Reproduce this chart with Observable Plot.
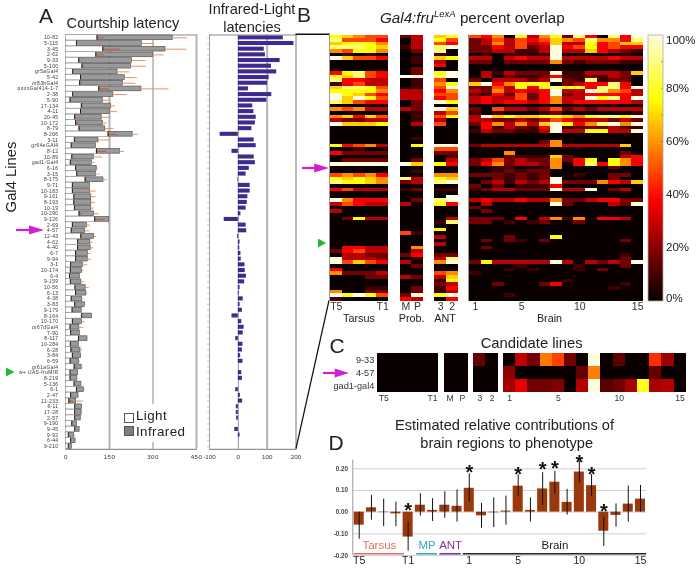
<!DOCTYPE html>
<html><head><meta charset="utf-8">
<style>
html,body{margin:0;padding:0;background:#fff}
#page{position:relative;width:699px;height:569px;overflow:hidden;font-family:"Liberation Sans",Arial,sans-serif;color:#222;filter:blur(0.35px)}
#page svg{position:absolute;left:0;top:0;font-family:"Liberation Sans",Arial,sans-serif}
#page svg text{font-family:"Liberation Sans",Arial,sans-serif}
.rowlabels text{letter-spacing:.42px}
.t{position:absolute;white-space:nowrap;line-height:1}
.box{position:absolute;border:1px solid #555;box-sizing:border-box}
</style>
<script src="https://cdn.jsdelivr.net/npm/d3@7"></script>
<script src="https://cdn.jsdelivr.net/npm/@observablehq/plot@0.6"></script>
</head><body><div id="page"></div>
<script>
const lines = ["10-82","5-115","3-45","2-62","9-33","5-100","gr5aGal4","5-42","or83bGal4","poxnGal414-1-7","2-38","5-90","17-134","4-11","20-45","10-172","8-79","8-206","3-11","gr64eGAl4","8-12","10-89","gad1-Gal4","6-16","3-15","8-175","9-71","10-183","9-161","8-193","10-19","10-290","9-126","2-69","4-57","12-43","4-62","4-40","6-7","9-94","3-1","10-174","6-4","9-159","10-56","6-13","4-38","3-83","9-179","8-164","10-170","or67dGal4","7-90","8-117","10-284","6-28","3-84","6-59","gr61aGal4","w+ UAS-fruMIR","8-219","5-136","6-1","2-47","11-233","6-11","17-28","2-57","9-190","9-45","9-92","6-44","9-210"];
const lightLatency = [107,36,127,103,44,55,23,50,47,113,23,14,53,50,30,33,45,145,29,18,105,20,15,33,37,66,22,22,27,27,29,45,99,22,18,51,40,40,33,33,16,15,12,15,31,33,18,30,21,54,22,14,16,43,15,17,22,14,28,14,14,28,36,16,10,30,30,30,20,30,8,16,8];
const lightError = [24,0,59,28,5,10,3,5,8,36,0,3,6,5,5,15,5,33,3,0,36,3,3,0,0,8,0,0,3,3,3,12,35,0,0,6,5,5,3,3,0,0,0,0,3,3,0,0,0,3,0,3,0,3,0,10,0,0,10,0,0,3,3,3,16,0,0,0,0,0,0,0,0];
const infraredLatency = [368,262,343,300,228,224,178,203,196,260,163,127,155,151,123,127,135,230,112,103,186,96,89,106,103,129,83,83,87,87,87,97,149,72,66,97,84,85,76,75,58,55,48,53,68,70,55,65,54,89,55,46,48,74,45,50,52,45,54,42,39,53,62,43,35,55,54,51,38,47,28,33,20];
const infraredErrorEnd = [419,306,417,338,276,277,220,246,241,355,211,151,170,177,151,142,165,249,151,103,202,126,100,110,117,142,83,104,104,102,97,115,149,84,82,105,93,96,84,88,75,62,50,65,80,76,62,68,54,89,66,61,50,75,47,58,53,50,59,42,40,55,66,46,60,55,57,55,40,47,33,33,20];
const differences = [156,193,90,94,145,115,133,107,101,35,116,99,50,54,62,59,47,-63,55,62,-22,55,59,38,27,-2,41,41,33,31,27,9,-49,27,29,-3,6,5,9,10,23,24,28,22,6,3,17,6,14,-22,12,20,17,-9,16,14,8,16,0,12,14,0,-9,7,15,-7,-7,-6,0,-12,6,0,0];

// heat-map rows: one character per cell, an overlap step looked up in overlapSteps
const overlapSteps = {"0":0,"1":8,"2":16,"3":27,"4":37,"5":48,"6":58,"7":68,"8":76,"9":88,"a":100};
const tarsusRows = ["87655","95554","78886","99987","65886","01010","a7554","00000","00000","00000","48954","87954","94433","14533","79985","88886","a8754","a7a85","97544","00000","65633","00000","67475","32233","a7778","00000","00000","00000","00000","00000","84563","00100","42222","00000","02222","aaaaa","00000","00000","56564","87876","98876","00000","45333","00000","00000","a6444","35433","00000","30000","00000","02833","00000","00000","00000","00000","00000","00000","00000","04433","24533","03322","a3332","a5754","00000","40000","62223","00022","00000","00000","00011","60022","a8a85","10000"];
const mpRows = ["23","03","03","13","02","00","01","01","00","02","02","aa","01","01","01","33","33","33","02","02","32","01","01","01","03","00","00","00","01","00","08","00","00","00","02","a7","00","01","00","93","23","00","12","00","00","02","30","00","00","00","00","00","00","00","51","00","00","00","06","03","24","01","30","02","00","00","32","00","00","02","02","2a","43"];
const antRows = ["78","85","54","9a","90","10","78","30","40","00","8a","9a","50","68","5a","46","55","45","a8","00","a7","35","58","30","50","00","00","00","00","00","aa","55","22","01","03","84","00","00","66","87","9a","00","11","00","0a","9a","84","00","00","00","03","19","00","80","00","30","00","30","00","00","22","39","6a","00","00","56","37","18","23","14","13","8a","04"];
const brainRows = ["54608368294094a","235354576596649","236353473384577","2243523a4584544","2233113a3374321","0101111a0000010","3303433a3333433","220222262122211","000000000000000","000000000000000","0313222a1133327","030211241121320","2033323a2191220","7a4688802344940","22538489884994a","3263434a33a9653","2142524a2344443","3433524633a894a","343443463444443","000000000000000","205332352323333","101000120000001","3a787788768998a","332232354333232","2463637a8469a6a","0413214a1122311","1322113a338833a","000000000000000","000000000000000","000000260000000","233333363333370","000000000000000","000600000000020","000211172000034","235232262480864","246233260494864","001100160000200","001212200000000","222121200100220","0021212a0000200","0231323a2226437","202011140000000","1233222a33a0230","000000000000000","000000000000000","343343362234422","0300000a200032a","200000000000000","020000000000000","000000000000000","222040361604430","220101200200000","000000000000000","000000000000000","000000000000000","000200080000000","020210200000020","000000000000000","020000000000000","000000000000000","000000000000010","000000000000020","2833333a303232a","000010000100020","000101000102000","100000000000000","000000000000000","000000001000000","002000240000010","000000000000100","000000000000000","000100000000000","000000000000000"];
const tarsusCols = ["T5","t4","t3","t2","T1"], mpCols = ["M","P"], antCols = ["3","2"];
const brainCols = ["1","b2","b3","b4","5","b6","b7","b8","b9","10","b11","b12","b13","b14","15"];

// panel C
const candidateLines = ["9-33","4-57","gad1-gal4"];
const candidateTarsus = [[0,0,0,0,0],[0,0,0,0,0],[0,0,0,0,0]];
const candidateMP = [[0,0],[0,0],[0,0]];
const candidateAnt = [[14,0],[0,0],[0,0]];
const candidateBrain = [[0,28,16,55,47,16,0,100,0,13,0,0,44,22,0],[20,0,0,0,0,0,14,56,0,0,0,0,14,0,0],[24,34,16,16,18,0,26,100,12,16,24,78,24,26,0]];

// panel D
const contribution = [-0.06,0.02,-0.002,-0.008,-0.115,0.032,0.008,0.032,0.027,0.11,-0.017,-0.003,0.005,0.12,0.008,0.107,0.138,0.045,0.185,0.122,-0.088,-0.015,0.037,0.06];
const contributionHi = [0,0.077,0.06,0.046,-0.046,0.085,0.062,0.094,0.103,0.177,0.04,0.066,0.074,0.172,0.066,0.182,0.189,0.105,0.234,0.174,-0.023,0.038,0.12,0.123];
const contributionLo = [-0.125,-0.037,-0.067,-0.067,-0.18,-0.018,-0.043,-0.028,-0.046,0.046,-0.074,-0.071,-0.06,0.072,-0.046,0.031,0.085,-0.014,0.134,0.072,-0.158,-0.069,-0.046,0];
const starBars = [4,9,13,15,16,18,19,20];
const starLevels = [0.026,0.203,0.192,0.215,0.22,0.249,0.192,0.022];
const contributionTicks = ["T5","T1","1","5","10","15"];
const contributionTickBars = [0,4,9,13,18,23];
const groups = [
  {name:"Tarsus",start:0.1,end:4.2,color:"#e0705c"},
  {name:"MP",start:5.2,end:6.9,color:"#3aa3c4"},
  {name:"ANT",start:7.1,end:8.85,color:"#7c3392"},
  {name:"Brain",start:9,end:24,color:"#222222"}
];

const W = 699, H = 569;
const page = document.getElementById("page");
const base = {width:W,height:H,style:"background:transparent;overflow:visible"};
const put = p => page.appendChild(p);
const decode = c => overlapSteps[c];
const hot = {type:"linear",domain:[0,37.5,75,100],range:["#0a0000","#ff0000","#ffff00","#fffde0"]};

function text(s,x,y,size,o={}){
  const d=document.createElement("div");d.className="t";d.innerHTML=s;
  d.style.left=x+"px";d.style.top=y+"px";d.style.fontSize=size+"px";
  const ax=o.anchor==="start"?"0":o.anchor==="end"?"-100%":"-50%";
  d.style.transform=`translate(${ax},-50%)`+(o.rotate?` rotate(${o.rotate}deg)`:"");
  if(o.color)d.style.color=o.color;
  if(o.spacing)d.style.letterSpacing=o.spacing+"px";
  page.appendChild(d);return d;
}

// ---------- Panel A : latencies
const rows = lines.map((name,i)=>({i,name,light:lightLatency[i],lightErr:lightLatency[i]+lightError[i],ir:infraredLatency[i],irEnd:infraredErrorEnd[i],diff:differences[i]}));
const rowY = {type:"band",domain:d3.range(lines.length),padding:0,round:false,axis:null};
put(Plot.plot({...base,className:"rowlabels",marginLeft:65.5,marginRight:W-196,marginTop:34.5,marginBottom:H-448.8,
  x:{domain:[0,450],axis:null},y:rowY,
  marks:[
    Plot.frame({anchor:"top",stroke:"#888"}),
    Plot.ruleX([0],{stroke:"#888",strokeWidth:.8}),
    Plot.ruleX([150],{stroke:"#b3b3b3",strokeWidth:2}),
    Plot.ruleX([300],{stroke:"#888",strokeWidth:1}),
    Plot.ruleX([450],{stroke:"#b3b3b3",strokeWidth:2}),
    Plot.barX(rows,{x1:0,x2:"ir",y:"i",fill:"#9a9a9a",stroke:"#555",strokeWidth:.7,insetTop:.5,insetBottom:.5}),
    Plot.barX(rows,{x1:0,x2:"light",y:"i",fill:"#fff",insetTop:.4,insetBottom:.4}),
    Plot.ruleY(rows,{x1:"ir",x2:"irEnd",y:"i",stroke:"#ea9460",strokeWidth:1}),
    Plot.ruleY(rows,{x1:"light",x2:"lightErr",y:"i",stroke:"#c9553a",strokeWidth:1}),
    Plot.tickX(rows,{x:"light",y:"i",stroke:"#222",strokeWidth:1,insetTop:.5,insetBottom:.5}),
    Plot.axisY({tickSize:0,tickPadding:7.5,fontSize:4.9,label:null,tickFormat:i=>lines[i],ticks:d3.range(lines.length),fill:"#333"}),
    Plot.axisX({ticks:[0,150,300,450],tickSize:0,tickPadding:5,fontSize:6.2,label:null,fill:"#333",tickFormat:d=>String(d)}),
    Plot.frame({anchor:"bottom",stroke:"#777"})
  ]}));
put(Plot.plot({...base,marginLeft:209,marginRight:W-295.5,marginTop:34.5,marginBottom:H-448.8,
  x:{domain:[-100,200],axis:null},y:rowY,
  marks:[
    Plot.ruleX([-100],{stroke:"#888",strokeWidth:.8}),
    Plot.ruleX([0],{stroke:"#777",strokeWidth:.8}),
    Plot.ruleX([100],{stroke:"#b3b3b3",strokeWidth:2}),
    Plot.ruleX([200],{stroke:"#777",strokeWidth:1}),
    Plot.barX(rows,{x1:0,x2:"diff",y:"i",fill:"#3f2a90",insetTop:.8,insetBottom:.8}),
    Plot.axisY({tickSize:2,tickFormat:()=>"",label:null,ticks:d3.range(lines.length),stroke:"#999",strokeWidth:.5}),
    Plot.axisX({ticks:[-100,0,100,200],tickSize:0,tickPadding:5,fontSize:6.2,label:null,fill:"#333",tickFormat:d=>d<0?"-"+(-d):String(d)}),
    Plot.frame({anchor:"bottom",stroke:"#777"}),
    Plot.frame({anchor:"top",stroke:"#888"})
  ]}));

// ---------- Panel B : overlap heat map
const slots = [...tarsusCols,"_a",...mpCols,"_b",...antCols,"_c",...brainCols];
const cells = [];
[[tarsusRows,tarsusCols],[mpRows,mpCols],[antRows,antCols],[brainRows,brainCols]].forEach(([tab,cols])=>{
  tab.forEach((row,r)=>cols.forEach((c,k)=>cells.push({r,c,v:decode(row[k])})));
});
const bLabels = {T5:"T5",T1:"T1",M:"M",P:"P","3":"3","2":"2","1":"1","5":"5","10":"10","15":"15"};
put(Plot.plot({...base,marginLeft:330,marginRight:W-643,marginTop:34.5,marginBottom:H-300.5,
  x:{type:"band",domain:slots,padding:0,round:false,axis:null},
  y:{type:"band",domain:d3.range(tarsusRows.length),padding:0,round:false,axis:null},
  color:hot,
  marks:[
    Plot.cell(cells,{x:"c",y:"r",fill:"v",shapeRendering:"crispEdges"}),
    Plot.axisX({ticks:Object.keys(bLabels),tickFormat:d=>bLabels[d],tickSize:0,tickPadding:2,fontSize:10.5,label:null,fill:"#333"})
  ]}));

// colour bar
put(Plot.plot({...base,marginLeft:647.5,marginRight:W-662.5,marginTop:34.5,marginBottom:H-300.5,
  x:{domain:[0,1],axis:null},y:{domain:[0,100],axis:null},color:hot,
  marks:[
    Plot.rect(d3.range(0,100),{x1:0,x2:1,y1:d=>d,y2:d=>d+1,fill:d=>d,shapeRendering:"crispEdges"}),
    Plot.frame({stroke:"#aaa",strokeWidth:.8}),
    Plot.ruleY(d3.range(10,100,10),{x1:.93,x2:1,stroke:"#333",strokeWidth:.7}),
    Plot.text([20,40,60,80],{y:d=>d,x:1,text:d=>d+"%",dx:3,textAnchor:"start",fontSize:11.5,fill:"#222"}),
    Plot.text([100],{y:d=>d,x:1,text:d=>d+"%",dx:3,dy:5.5,textAnchor:"start",fontSize:11.5,fill:"#222"}),
    Plot.text([0],{y:d=>d,x:1,text:d=>d+"%",dx:3,dy:-3,textAnchor:"start",fontSize:11.5,fill:"#222"})
  ]}));

// ---------- Panel C
const cGap = 0.44;
const cCells = [];
candidateLines.forEach((name,r)=>{
  let pos = 0;
  [candidateTarsus,candidateMP,candidateAnt,candidateBrain].forEach(tab=>{
    tab[r].forEach(v=>{cCells.push({name,x1:pos,x2:pos+1,v});pos+=1;});
    pos+=cGap;
  });
});
const cTicks = [["T5",0.5],["T1",4.5],["M",5.94],["P",6.94],["3",8.38],["2",9.38],["1",10.82],["5",14.82],["10",19.82],["15",24.82]];
put(Plot.plot({...base,marginLeft:377.3,marginRight:W-685.7,marginTop:353.3,marginBottom:H-391.7,
  x:{domain:[0,24+3*cGap],axis:null},
  y:{type:"band",domain:candidateLines,padding:0,round:false,axis:null},
  color:hot,
  marks:[
    Plot.barX(cCells,{x1:"x1",x2:"x2",y:"name",fill:"v",shapeRendering:"crispEdges"}),
    Plot.axisY({tickSize:0,tickPadding:3.5,fontSize:9.2,label:null,fill:"#333"}),
    Plot.axisX({ticks:cTicks.map(d=>d[1]),tickFormat:d=>cTicks.find(t=>t[1]===d)[0],tickSize:0,tickPadding:2.5,fontSize:8.6,label:null,fill:"#333"})
  ]}));

// ---------- Panel D
const bars = contribution.map((v,i)=>({i,v,hi:contributionHi[i],lo:contributionLo[i]}));
const stars = starBars.map((b,k)=>({x:b+.5,y:starLevels[k]}));
put(Plot.plot({...base,marginLeft:352.6,marginRight:W-646.1,marginTop:459.6,marginBottom:H-555,
  x:{domain:[0,24],axis:null},y:{domain:[-0.2,0.24],axis:null},
  marks:[
    Plot.ruleY([-0.2,-0.1,0,0.1,0.2],{stroke:"#cfcfdc",strokeWidth:1}),
    Plot.ruleX([0],{dx:-.3,stroke:"#999",strokeWidth:1}),
    Plot.rect(bars,{x1:d=>d.i+.09,x2:d=>d.i+.91,y1:0,y2:"v",fill:"#9a3a0c"}),
    Plot.ruleX(bars,{x:d=>d.i+.5,y1:"lo",y2:"hi",stroke:"#111",strokeWidth:1}),
    Plot.text(stars,{x:"x",y:"y",text:()=>"*",fontSize:20,fontWeight:"bold",dy:4.5,fill:"#111"}),
    Plot.ruleY(groups,{y:()=>-0.192,x1:"start",x2:"end",stroke:"color",strokeWidth:1.6}),
    Plot.text(groups,{x:d=>(d.start+d.end)/2,y:()=>-0.155,text:"name",fill:d=>d.color,fontSize:11.5}),
    Plot.axisY({ticks:[-0.2,-0.1,0,0.1,0.2],tickFormat:d=>d.toFixed(2),tickSize:0,tickPadding:5,fontSize:6.3,fontWeight:"bold",fill:"#444",label:null}),
    Plot.axisX({ticks:contributionTickBars.map(b=>b+.5),tickFormat:(d)=>contributionTicks[contributionTickBars.indexOf(d-.5)],tickSize:0,tickPadding:1,fontSize:10.5,label:null,fill:"#222"})
  ]}));

// ---------- annotations
const ns="http://www.w3.org/2000/svg";
const ov=document.createElementNS(ns,"svg");ov.setAttribute("width",W);ov.setAttribute("height",H);
const arrow=(x1,x2,y,c,shaft)=>{
  const head=shaft?Math.min(15,(x2-x1)*.55):x2-x1;
  return (shaft?`<line x1="${x1}" x2="${x2-head+1}" y1="${y}" y2="${y}" stroke="${c}" stroke-width="2.2"/>`:"")+
    `<polygon points="${x2-head},${y-4.6} ${x2},${y} ${x2-head},${y+4.6}" fill="${c}"/>`;
};
ov.innerHTML=
  `<line x1="295.5" x2="330" y1="34.3" y2="34.3" stroke="#111" stroke-width="1.4"/>`+
  `<line x1="329" y1="300.5" x2="296" y2="448.5" stroke="#111" stroke-width="1.2"/>`+
  `<line x1="329.5" y1="34" x2="329.5" y2="301" stroke="#999" stroke-width="1"/>`+
  `<line x1="468.5" y1="34" x2="468.5" y2="301" stroke="#999" stroke-width="1"/>`+
  arrow(16,44,230,"#d21fd2",true)+arrow(6,14.5,372,"#22b838",false)+
  arrow(302,329,168,"#d21fd2",true)+arrow(318,326,243,"#22b838",false)+
  arrow(323,349,373,"#d21fd2",true);
page.appendChild(ov);

text("A",46,15,21);
text("Courtship latency",123,23,14.6);
text("Infrared-Light",252,9,14.6);
text("latencies",252,27,14.6);
text("Gal4 Lines",10.5,177,14.8,{rotate:-90});
text("B",304,14,21);
text('<i>Gal4:fru</i><sup style="font-size:9.5px;line-height:0"><i>LexA</i></sup> percent overlap',380,18,15.2,{anchor:"start"});
text("Tarsus",359,317.5,10.8);
text("Prob.",411.7,317.5,10.8);
text("ANT",445,317.5,10.8);
text("Brain",549.5,317.5,10.8);
text("C",337,345,21);
text("Candidate lines",531.7,343,14.8);
text("D",336,441.5,21);
text("Estimated relative contributions of",504.5,425,14.6);
text("brain regions to phenotype",506.7,443,14.6);

// legend
const white=document.createElement("div");white.style.cssText="position:absolute;left:122px;top:404px;width:68px;height:38px;background:#fff";page.appendChild(white);
const b1=document.createElement("div");b1.className="box";b1.style.cssText="left:124px;top:413px;width:10px;height:10px;background:#fff";page.appendChild(b1);
const b2=document.createElement("div");b2.className="box";b2.style.cssText="left:124px;top:426px;width:10px;height:10px;background:#7d7d7d";page.appendChild(b2);
text("Light",136,416,13.4,{anchor:"start",spacing:.4});
text("Infrared",136,432,13.4,{anchor:"start",spacing:.4});
</script></body></html>
